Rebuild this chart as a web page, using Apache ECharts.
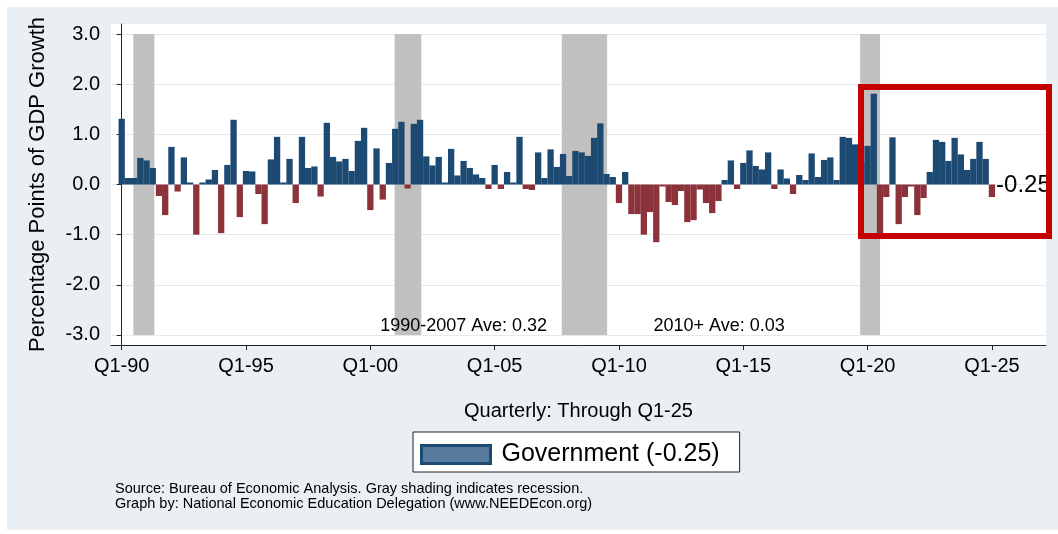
<!DOCTYPE html>
<html>
<head>
<meta charset="utf-8">
<script src="https://cdn.jsdelivr.net/npm/echarts@6/dist/echarts.min.js"></script>
<style>
  html, body { margin: 0; padding: 0; background: #ffffff; }
  #chart { width: 1058px; height: 534px; }
</style>
</head>
<body>
<div id="chart"></div>
<script>
// ---------- data ----------
const tickLabels = ['Q1-90', 'Q1-95', 'Q1-00', 'Q1-05', 'Q1-10', 'Q1-15', 'Q1-20', 'Q1-25'];
const tickQuarterIndex = [0, 20, 40, 60, 80, 100, 120, 140];
const yTickValues = [-3, -2, -1, 0, 1, 2, 3];

// Government contribution to real GDP growth, Q1-90 .. Q1-25 (percentage points)
const govValues = [
  1.31, 0.13, 0.13, 0.53, 0.48, 0.33, -0.23, -0.61, 0.75, -0.14,   // 1990-92
  0.54, 0.04, -1.00, 0.04, 0.10, 0.29, -0.97, 0.39, 1.29, -0.65,
  0.27, 0.26, -0.19, -0.79, 0.50, 0.95, 0.04, 0.51, -0.37, 0.95,   // 1995-97
  0.33, 0.36, -0.24, 1.23, 0.55, 0.46, 0.51, 0.27, 0.87, 1.13,
  -0.51, 0.72, -0.30, 0.43, 1.11, 1.25, -0.08, 1.21, 1.29, 0.56,   // 2000-02
  0.38, 0.55, 0.03, 0.71, 0.18, 0.47, 0.33, 0.20, 0.13, -0.09,
  0.39, -0.09, 0.25, 0.03, 0.95, -0.09, -0.11, 0.64, 0.13, 0.70,   // 2005-07
  0.35, 0.61, 0.17, 0.67, 0.64, 0.57, 0.93, 1.22, 0.21, 0.15,
  -0.37, 0.25, -0.59, -0.59, -1.00, -0.55, -1.15, -0.04, -0.35, -0.41, // 2010-12
  -0.13, -0.75, -0.71, -0.10, -0.37, -0.57, -0.33, 0.09, 0.48, -0.09,
  0.43, 0.68, 0.37, 0.30, 0.64, -0.09, 0.30, 0.12, -0.19, 0.19,    // 2015-17
  0.09, 0.62, 0.15, 0.49, 0.54, 0.09, 0.95, 0.93, 0.80, 0.45,
  0.77, 1.81, -0.99, -0.25, 0.94, -0.79, -0.25, -0.04, -0.61, -0.27, // 2020-22
  0.25, 0.89, 0.85, 0.47, 0.93, 0.60, 0.29, 0.51, 0.85, 0.51,
  -0.25                                                            // Q1-25
];

// Recession shading, in quarter-index units (Q1-90 = 0)
const recessionStart = [1.87, 43.9, 70.8, 118.8];
const recessionEnd   = [5.25, 48.2, 78.1, 122.0];

const seriesName = 'Government (-0.25)';
const lastLabel = '-0.25';
const annotations = ['1990-2007 Ave: 0.32', '2010+ Ave: 0.03'];

// ---------- styles ----------
const BLUE = '#1d4a72';
const RED = '#8c323a';
const FONT = '"Liberation Sans", Arial, Helvetica, sans-serif';

const chart = echarts.init(document.getElementById('chart'), null, { renderer: 'canvas' });

const barData = govValues.map((v, i) => {
  const item = { value: [i, v], itemStyle: { color: v >= 0 ? BLUE : RED } };
  if (i === govValues.length - 1) {
    item.label = {
      show: true, position: 'right', distance: 1, offset: [0, -5],
      formatter: lastLabel, fontSize: 24, color: '#000', fontFamily: FONT
    };
  }
  return item;
});

const option = {
  animation: false,
  textStyle: { fontFamily: FONT },
  graphic: [
    { type: 'rect', z: -100, silent: true,
      shape: { x: 7, y: 7, width: 1051, height: 523 },
      style: { fill: '#e9eff2' } },
    { type: 'rect', z: 100, silent: true,
      shape: { x: 861, y: 87, width: 188, height: 149 },
      style: { fill: 'none', stroke: '#c40000', lineWidth: 6 } },
    { type: 'text', left: 115, top: 481, silent: true,
      style: { text: 'Source: Bureau of Economic Analysis. Gray shading indicates recession.',
               fontSize: 14.5, fill: '#000', fontFamily: FONT } },
    { type: 'text', left: 115, top: 496, silent: true,
      style: { text: 'Graph by: National Economic Education Delegation (www.NEEDEcon.org)',
               fontSize: 14.5, fill: '#000', fontFamily: FONT } }
  ],
  grid: {
    left: 111, right: 12, top: 24, bottom: 189,
    show: true, backgroundColor: '#ffffff', borderWidth: 0
  },
  legend: {
    left: 413, top: 432,
    padding: [10, 20, 5, 7],
    backgroundColor: '#ffffff', borderColor: '#222', borderWidth: 1,
    itemWidth: 69, itemHeight: 18,
    textStyle: { fontSize: 25, color: '#000', fontFamily: FONT, padding: [0, 0, 0, 6] },
    data: [{ name: seriesName, icon: 'rect',
             itemStyle: { color: '#587a9c', borderColor: BLUE, borderWidth: 3 } }]
  },
  xAxis: {
    type: 'value', min: -1.72, max: 148.7,
    name: 'Quarterly: Through Q1-25', nameLocation: 'middle', nameGap: 56,
    nameTextStyle: { fontSize: 20, color: '#000', fontFamily: FONT },
    axisLine: { show: true, onZero: false, lineStyle: { color: '#222', width: 1 } },
    axisTick: { show: true, length: 5, lineStyle: { color: '#222' }, customValues: tickQuarterIndex },
    axisLabel: {
      customValues: tickQuarterIndex, margin: 11, fontSize: 20, color: '#000', fontFamily: FONT,
      formatter: v => tickLabels[tickQuarterIndex.indexOf(Math.round(v))] || ''
    },
    splitLine: { show: false }
  },
  yAxis: {
    type: 'value', min: -3.2, max: 3.2,
    name: 'Percentage Points of GDP Growth', nameLocation: 'middle', nameGap: 62,
    nameTextStyle: { fontSize: 22, color: '#000', fontFamily: FONT },
    axisLine: { show: true, lineStyle: { color: '#222', width: 1 } },
    axisTick: { show: true, length: 5, lineStyle: { color: '#222' }, customValues: yTickValues },
    axisLabel: {
      customValues: yTickValues, margin: 11, fontSize: 20, color: '#000', fontFamily: FONT,
      formatter: v => v.toFixed(1)
    },
    splitLine: { show: true, lineStyle: { color: '#e2eaee', width: 1 } }
  },
  series: [{
    name: seriesName,
    type: 'bar',
    barWidth: 6.3,
    barMinHeight: 2,
    data: barData,
    markArea: {
      silent: true,
      itemStyle: { color: '#c0c0c0' },
      data: recessionStart.map((s, i) => [{ xAxis: s, yAxis: 3 }, { xAxis: recessionEnd[i], yAxis: -3 }])
    },
    markPoint: {
      silent: true,
      symbol: 'rect', symbolSize: 0,
      label: { show: true, position: 'inside', fontSize: 18, color: '#000', fontFamily: FONT,
               formatter: p => p.name },
      data: [
        { name: annotations[0], coord: [55.0, -2.82] },
        { name: annotations[1], coord: [96.1, -2.82] }
      ]
    }
  }]
};

chart.setOption(option);
</script>
</body>
</html>
